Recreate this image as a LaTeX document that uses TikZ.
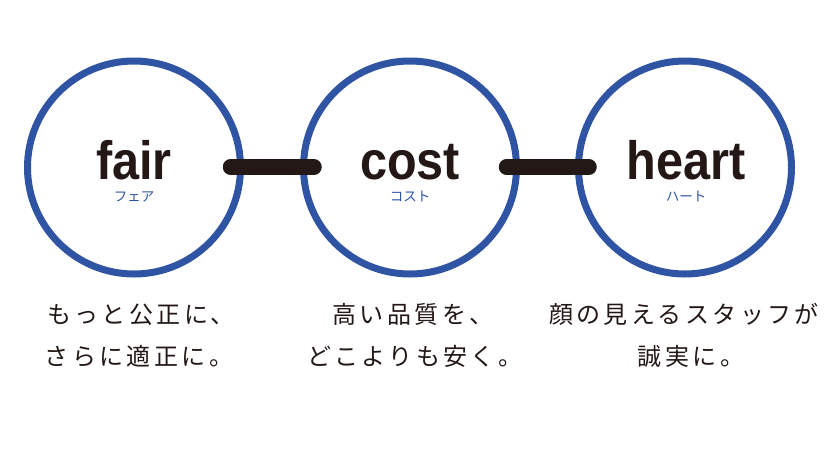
\documentclass[tikz,border=0pt]{standalone}
\usepackage{fontspec}
\setmainfont{Liberation Sans}
\newfontfamily\jpfont[LetterSpace=14]{Noto Sans CJK JP}
\newfontfamily\kanafont{Noto Sans CJK JP}
\newfontfamily\wordfont[FakeStretch=0.9]{Liberation Sans Bold}
\definecolor{ringblue}{RGB}{48,84,164}
\definecolor{inkdark}{RGB}{35,24,21}
\tikzset{
  ring/.style={circle, draw=ringblue, line width=7pt, minimum size=213pt, inner sep=0pt, outer sep=0pt},
  bar/.style={draw=inkdark, line width=15.5pt, line cap=round},
  word/.style={anchor=base, inner sep=0pt, text=inkdark, font=\wordfont\fontsize{54}{54}\selectfont},
  kana/.style={anchor=base, inner sep=0pt, text=ringblue, font=\kanafont\fontsize{13.5}{13.5}\selectfont},
  caption/.style={anchor=base, inner sep=0pt, text=inkdark, font=\jpfont\fontsize{24}{24}\selectfont}
}
\begin{document}
\begin{tikzpicture}[x=1pt,y=-1pt]
\useasboundingbox[fill=white] (0,0) rectangle (833,459);
\node[ring] (c1) at (134,167.5) {};
\node[ring] (c2) at (410,167.5) {};
\node[ring] (c3) at (685,167.5) {};
\draw[bar] ([xshift=-10pt,yshift=0.5pt]c1.east) -- ([xshift=10.5pt,yshift=0.5pt]c2.west);
\draw[bar] ([xshift=-10pt,yshift=0.5pt]c2.east) -- ([xshift=10.5pt,yshift=0.5pt]c3.west);
\node[word] (w1) at (134,179) {fair};
\node[word] (w2) at (410,179) {cost};
\node[word] (w3) at (686,179) {heart};
\node[kana] (k1) at (134,201) {フェア};
\node[kana] (k2) at (410,201) {コスト};
\node[kana] (k3) at (686,201) {ハート};
\node[caption] (t1a) at (141,323) {もっと公正に、};
\node[caption] (t1b) at (139,365) {さらに適正に。};
\node[caption] (t2a) at (413,323) {高い品質を、};
\node[caption] (t2b) at (415,365) {どこよりも安く。};
\node[caption] (t3a) at (684,323) {顔の見えるスタッフが};
\node[caption] (t3b) at (691,365) {誠実に。};
\end{tikzpicture}
\end{document}
